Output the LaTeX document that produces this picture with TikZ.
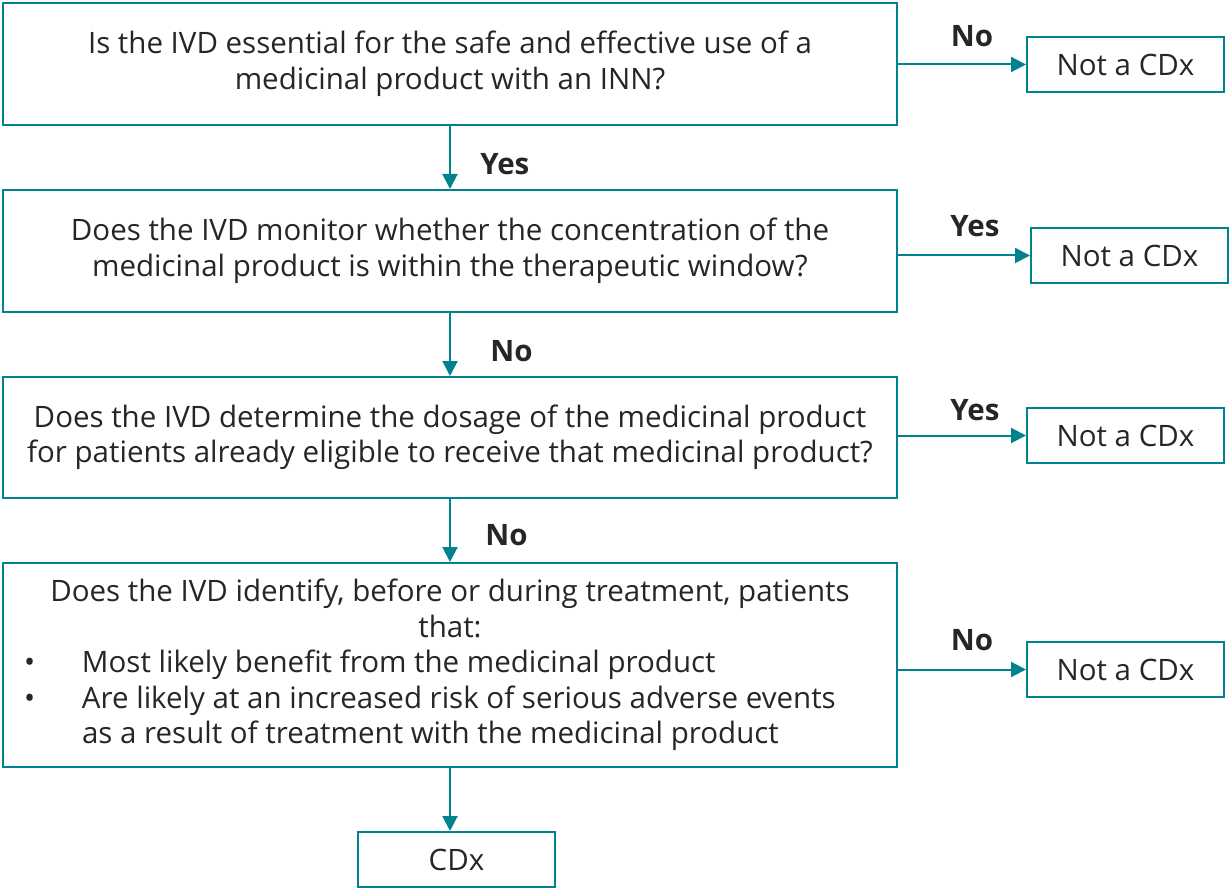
\documentclass[tikz,border=0pt]{standalone}
\usepackage{fontspec}
\setmainfont{Open Sans}
\usepackage{xcolor}
\usepackage{tikz}
\usetikzlibrary{arrows.meta,positioning}
\definecolor{tealline}{HTML}{00838F}
\definecolor{ink}{HTML}{262626}
\newcommand{\bul}[1]{\par\hangindent=72pt\hangafter=1\noindent\makebox[72pt][l]{\hspace{14pt}\textbullet}#1}
\tikzset{
  qbox/.style={draw=tealline,fill=white,line width=2pt,align=center,minimum width=894pt,inner sep=7pt,text=ink,font=\fontsize{29.5}{35.5}\selectfont},
  abox/.style={qbox,minimum width=197pt,minimum height=55pt},
  arr/.style={-{Triangle[length=15pt,width=15pt]},line width=2pt,color=tealline},
  lbl/.style={font=\fontsize{29.5}{33}\selectfont\bfseries,text=ink},
}
\begin{document}
\begin{tikzpicture}[x=1pt,y=-1pt]
\useasboundingbox (0,0) rectangle (1230,890);
\node[qbox,minimum height=122pt] (q1) at (450,64) {Is the IVD essential for the safe and effective use of a\\ medicinal product with an INN?};
\node[qbox,minimum height=122pt] (q2) at (450,251) {Does the IVD monitor whether the concentration of the\\ medicinal product is within the therapeutic window?};
\node[qbox,minimum height=121pt] (q3) at (450,437.5) {Does the IVD determine the dosage of the medicinal product\\ for patients already eligible to receive that medicinal product?};
\node[qbox,minimum height=204pt] (q4) at (450,665) {\begin{minipage}{880pt}\centering Does the IVD identify, before or during treatment, patients\\ that:\par\raggedright
\bul{Most likely benefit from the medicinal product}
\bul{Are likely at an increased risk of serious adverse events\newline as a result of treatment with the medicinal product}\end{minipage}};
\node[abox] (cdx) at (456.5,859.5) {CDx};
\node[abox] (r1) at (1125.5,64.5) {Not a CDx};
\node[abox] (r2) at (1129.5,255.5) {Not a CDx};
\node[abox] (r3) at (1125.5,435.5) {Not a CDx};
\node[abox] (r4) at (1125.5,669.5) {Not a CDx};
% down the main column
\draw[arr] (q1) -- node[lbl,right=26pt,yshift=-7pt] {Yes} (q2);
\draw[arr] (q2) -- node[lbl,right=36pt,yshift=-7pt] {No} (q3);
\draw[arr] (q3) -- node[lbl,right=31pt,yshift=-5pt] {No} (q4);
\draw[arr] (q4.south) -- (q4.south |- cdx.north);
% exits to the right
\draw[arr] (q1.east |- r1) -- node[lbl,above=13pt,xshift=10pt] {No} (r1);
\draw[arr] (q2.east |- r2) -- node[lbl,above=14pt,xshift=11pt] {Yes} (r2);
\draw[arr] (q3.east |- r3) -- node[lbl,above=10pt,xshift=13pt] {Yes} (r3);
\draw[arr] (q4.east |- r4) -- node[lbl,above=14pt,xshift=10pt] {No} (r4);
\end{tikzpicture}
\end{document}
